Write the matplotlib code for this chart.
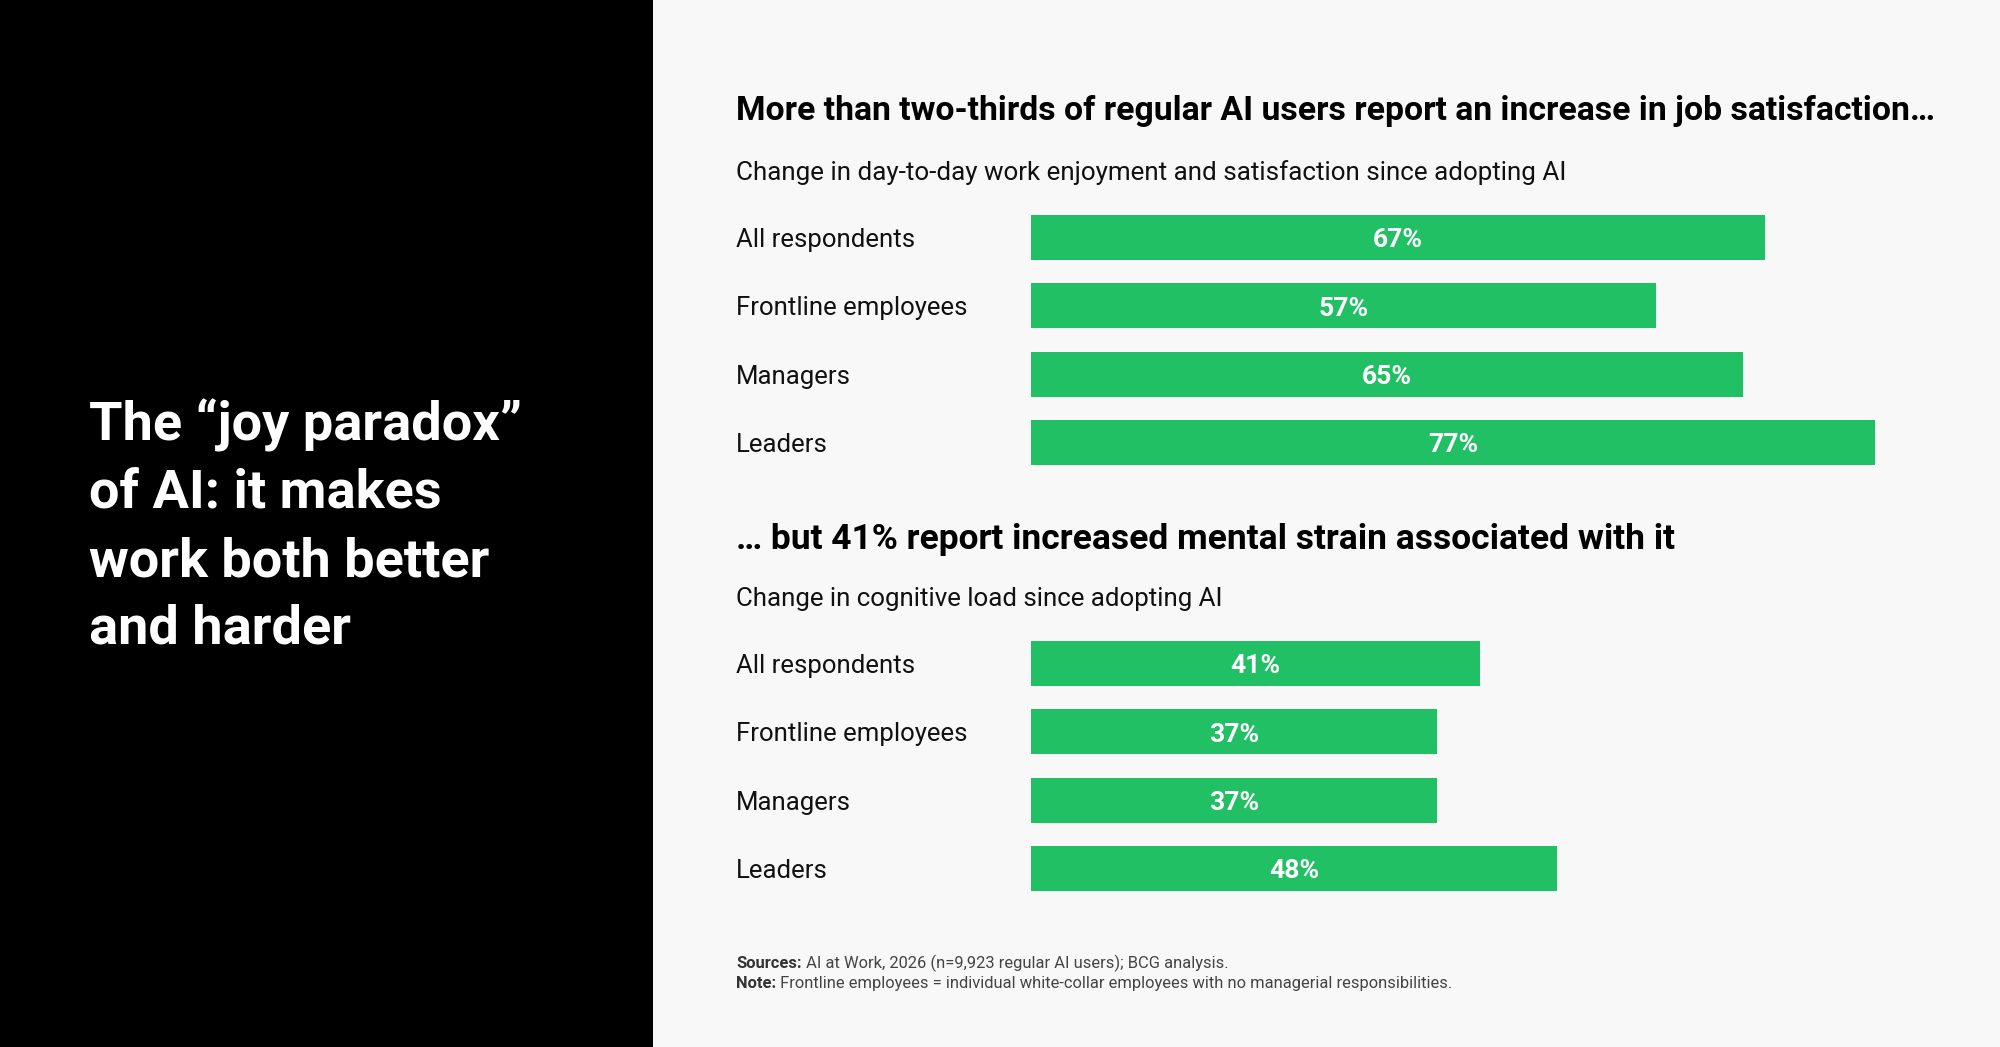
import matplotlib
matplotlib.use('Agg')
import matplotlib.pyplot as plt
from matplotlib.patches import Rectangle
from matplotlib.transforms import blended_transform_factory, offset_copy

# ---- data ----
categories = ["All respondents", "Frontline employees", "Managers", "Leaders"]
satisfaction = [67, 57, 65, 77]
cognitive_load = [41, 37, 37, 48]

headline = ["The \u201cjoy paradox\u201d", "of AI: it makes", "work both better", "and harder"]
title1 = "More than two-thirds of regular AI users report an increase in job satisfaction\u2026"
subtitle1 = "Change in day-to-day work enjoyment and satisfaction since adopting AI"
title2 = "\u2026 but 41% report increased mental strain associated with it"
subtitle2 = "Change in cognitive load since adopting AI"
src_bold, src_text = "Sources:", " AI at Work, 2026 (n=9,923 regular AI users); BCG analysis."
note_bold, note_text = "Note:", " Frontline employees = individual white-collar employees with no managerial responsibilities."

# ---- style ----
W, H, DPI = 2000, 1047, 100
GREEN = '#22C065'
BG = '#F8F8F8'
FONT = 'Roboto'
DY = 3  # px downward nudge for centred text

fig = plt.figure(figsize=(W / DPI, H / DPI), dpi=DPI, facecolor=BG)
fig.patches.append(Rectangle((0, 0), 653 / W, 1, transform=fig.transFigure,
                             facecolor='black', edgecolor='none', zorder=0))
renderer = fig.canvas.get_renderer()


def fx(px):
    return px / W


def fy(px):
    return 1 - px / H


def fit_size(s, target_w, weight='normal'):
    t = fig.text(0, 0, s, fontsize=20, fontweight=weight, family=FONT)
    w = t.get_window_extent(renderer).width
    t.remove()
    return 20 * target_w / w


def put(x_px, y_px, s, size, weight='normal', color='#111111'):
    return fig.text(fx(x_px), fy(y_px + DY), s, fontsize=size, fontweight=weight,
                    color=color, family=FONT, va='center', ha='left')


# left headline
hs = fit_size(headline[0], 431, 'bold')
for line, y in zip(headline, [422, 490, 559, 626]):
    put(89, y, line, hs, 'bold', 'white')

# titles
put(736, 108, title1, fit_size(title1, 1193, 'bold'), 'bold', 'black')
put(736, 170, subtitle1, fit_size(subtitle1, 828))
put(736, 537, title2, fit_size(title2, 936, 'bold'), 'bold', 'black')
put(736, 596, subtitle2, fit_size(subtitle2, 486))

cat_size = fit_size("Frontline employees", 231)
val_size = fit_size("67%", 50, 'bold')

STEP = 68.5
BAR_H = 45


def bar_panel(first_center_px, values):
    top = first_center_px - STEP / 2
    ax = fig.add_axes([fx(1031), fy(top + 4 * STEP), 876.8 / W, 4 * STEP / H])
    ax.set_xlim(0, 80)
    ax.set_ylim(3.5, -0.5)
    ax.barh(range(len(values)), values, height=BAR_H / STEP, color=GREEN)
    ax.axis('off')
    tr_val = offset_copy(ax.transData, fig=fig, x=0, y=-DY, units='dots')
    tr_cat = offset_copy(blended_transform_factory(fig.transFigure, ax.transData),
                         fig=fig, x=0, y=-DY, units='dots')
    for i, (c, v) in enumerate(zip(categories, values)):
        ax.text(v / 2, i, f"{v}%", transform=tr_val, ha='center', va='center',
                color='white', fontweight='bold', fontsize=val_size, family=FONT)
        ax.text(fx(736), i, c, transform=tr_cat, ha='left', va='center',
                color='#111111', fontsize=cat_size, family=FONT)
    return ax


bar_panel(237, satisfaction)
bar_panel(663, cognitive_load)

# footnotes
fs = fit_size(src_bold + src_text, 491)
for (b, t), y in zip([(src_bold, src_text), (note_bold, note_text)], [968, 988]):
    tb = fig.text(fx(736), fy(y), b, fontsize=fs, fontweight='bold', color='#333333',
                  family=FONT, va='baseline', ha='left')
    bb = tb.get_window_extent(renderer)
    fig.text(bb.x1 / W, fy(y), t, fontsize=fs, color='#444444', family=FONT,
             va='baseline', ha='left')

fig.savefig('out.png', dpi=DPI, facecolor=BG)
